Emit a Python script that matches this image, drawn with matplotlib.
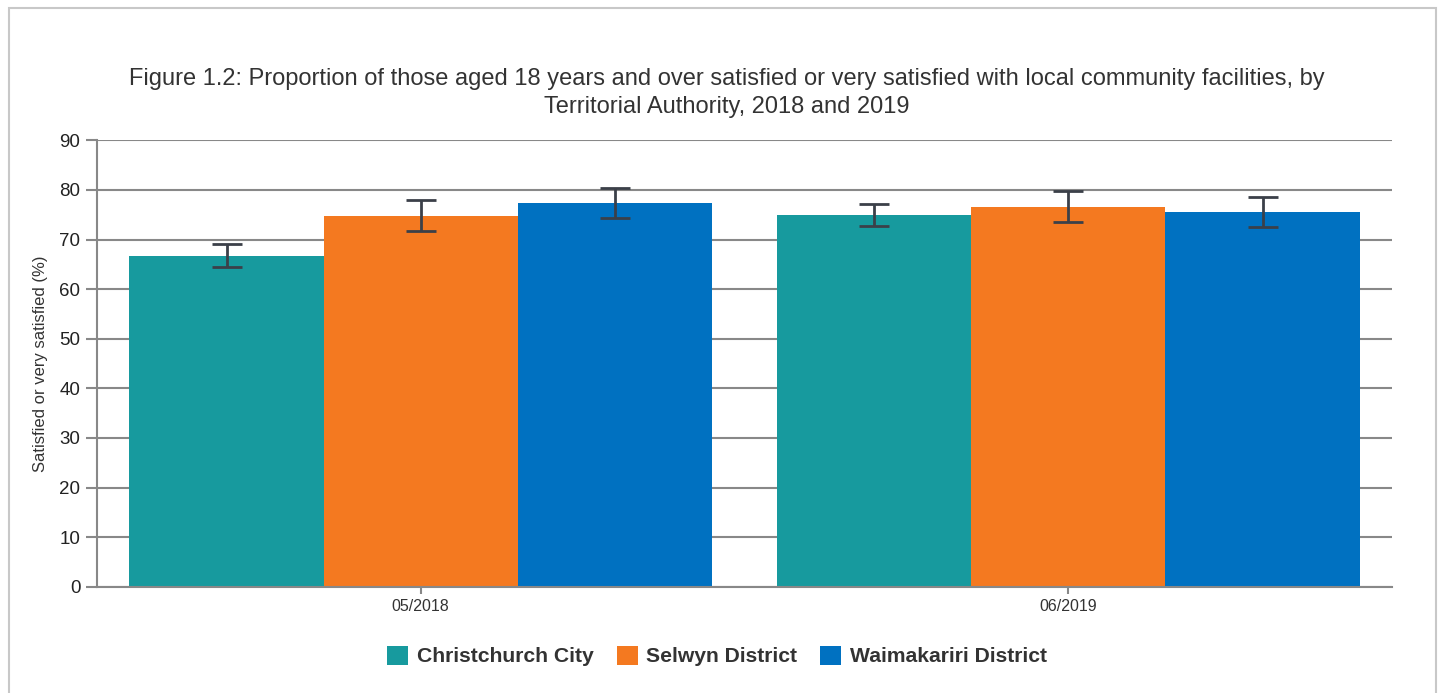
import numpy as np
import matplotlib
matplotlib.use('Agg')
import matplotlib.pyplot as plt
from matplotlib.patches import Rectangle

plt.rcParams['font.family'] = ['Liberation Sans', 'DejaVu Sans']

# data
periods = ['05/2018', '06/2019']
areas = ['Christchurch City', 'Selwyn District', 'Waimakariri District']
christchurch = [66.7, 74.9]
selwyn = [74.8, 76.5]
waimakariri = [77.4, 75.5]
christchurch_low = [64.5, 72.7]
christchurch_high = [69.0, 77.2]
selwyn_low = [71.8, 73.5]
selwyn_high = [77.9, 79.8]
waimakariri_low = [74.3, 72.5]
waimakariri_high = [80.4, 78.5]

colors = ['#179a9e', '#f47920', '#0071c1']
title = ('Figure 1.2: Proportion of those aged 18 years and over satisfied or very satisfied '
         'with local community facilities, by\nTerritorial Authority, 2018 and 2019')

fig = plt.figure(figsize=(14.44, 6.93), dpi=100)
fig.patches.append(Rectangle((9 / 1444, -0.1), 1427 / 1444, 1.1 - 8 / 693,
                             transform=fig.transFigure, fill=False,
                             edgecolor='#c8c8c8', linewidth=1.5))

ax = fig.add_axes([97 / 1444, 1 - 586.7 / 693, 1295 / 1444, (586.7 - 140.3) / 693])

x = np.arange(len(periods))
width = 0.3
series = [
    (christchurch, christchurch_low, christchurch_high),
    (selwyn, selwyn_low, selwyn_high),
    (waimakariri, waimakariri_low, waimakariri_high),
]
for i, (vals, low, high) in enumerate(series):
    pos = x + (i - 1) * width
    vals = np.array(vals)
    err = [vals - np.array(low), np.array(high) - vals]
    ax.bar(pos, vals, width, color=colors[i], label=areas[i], zorder=2)
    ax.errorbar(pos, vals, yerr=err, fmt='none', ecolor='#3b4049',
                elinewidth=2, capsize=10.5, capthick=2, zorder=3)

ax.set_xlim(-0.5, 1.5)
ax.set_ylim(0, 90)
ax.set_yticks(np.arange(0, 91, 10))
ax.set_xticks(x)
ax.set_xticklabels(periods, fontsize=11.5, color='#333333')
ax.tick_params(axis='y', labelsize=13.5, labelcolor='#222222', length=8,
               color='#888888', width=1.5, pad=4)
ax.tick_params(axis='x', length=5, color='#888888', width=1.5, pad=4)
ax.yaxis.grid(True, color='#888888', linewidth=1.5, zorder=0)
ax.set_axisbelow(True)
for side in ['top', 'right']:
    ax.spines[side].set_visible(False)
for side in ['left', 'bottom']:
    ax.spines[side].set_color('#888888')
    ax.spines[side].set_linewidth(1.5)

ax.set_ylabel('Satisfied or very satisfied (%)', fontsize=12, color='#333333', labelpad=8)

fig.text(727 / 1444, 1 - 93 / 693, title, ha='center', va='center',
         fontsize=17, color='#333333', linespacing=1.35)

fig.legend(loc='center', bbox_to_anchor=(717 / 1444, 1 - 656 / 693), ncol=3,
           frameon=False, handlelength=1.0, handleheight=1.0, handletextpad=0.4,
           columnspacing=1.1, prop={'weight': 'bold', 'size': 15.2},
           labelcolor='#333333')

fig.savefig('out.png', dpi=100)
